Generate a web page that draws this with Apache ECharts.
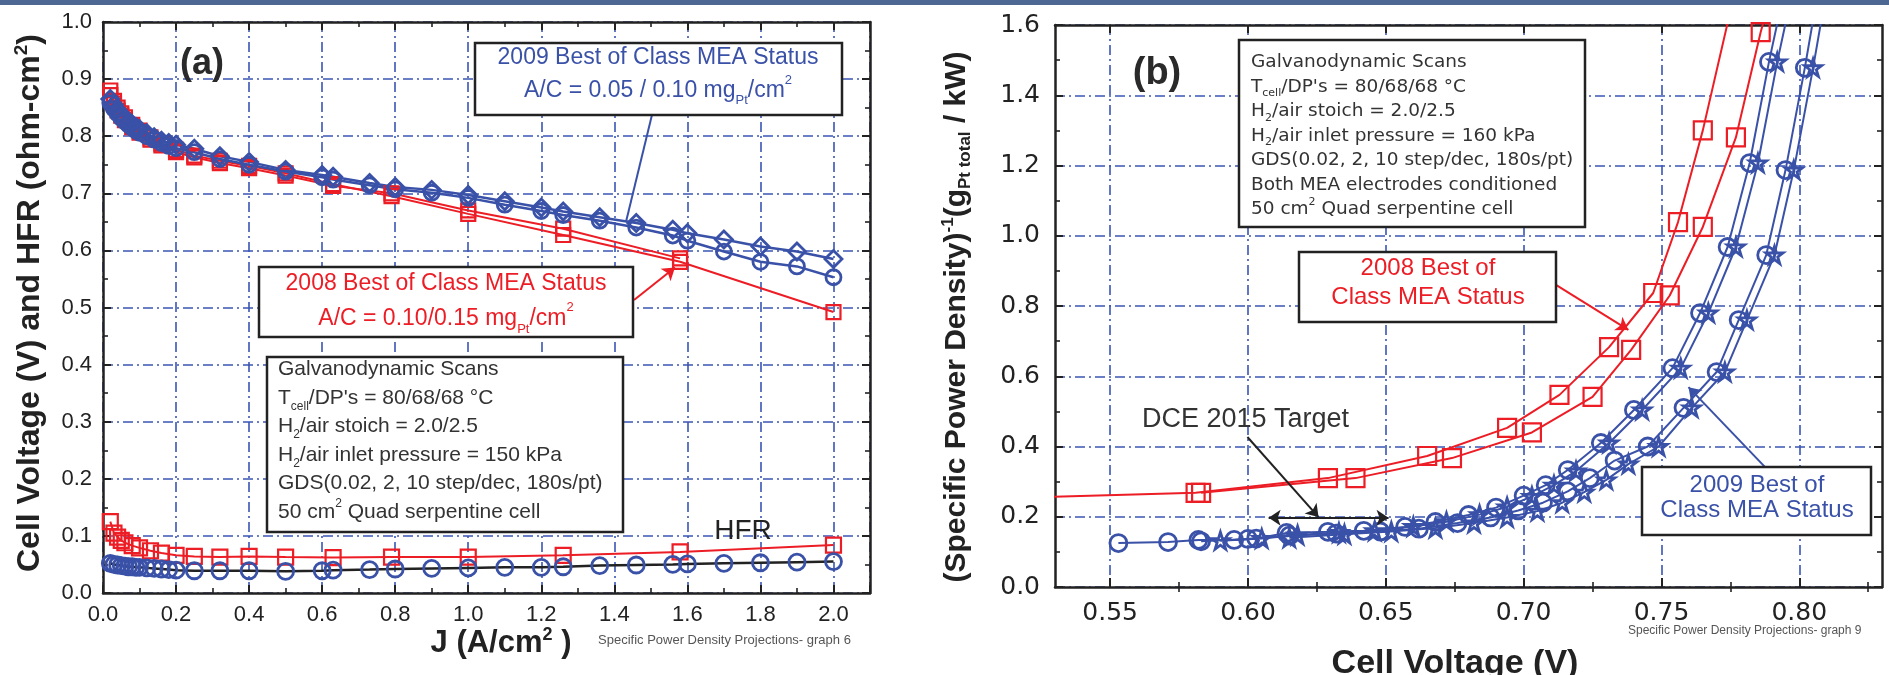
<!DOCTYPE html>
<html>
<head>
<meta charset="utf-8">
<title>Specific Power Density Projections</title>
<script src="https://cdn.jsdelivr.net/npm/echarts@6/dist/echarts.min.js"></script>
<style>
    html, body { margin: 0; padding: 0; background: #fff; }
    #main { width: 1889px; height: 675px; }
</style>
</head>
<body>
<div id="main"></div>
<script>

// ---- panel (a): cell voltage and HFR vs current density ----
var jLog = [0.02, 0.03, 0.04, 0.05, 0.06, 0.08, 0.10, 0.13, 0.16, 0.20,
    0.25, 0.32, 0.40, 0.50, 0.63, 0.79, 1.00, 1.26, 1.58, 2.00];
var red2008V = [0.880, 0.862, 0.850, 0.840, 0.833, 0.820, 0.810, 0.798, 0.787, 0.776,
    0.766, 0.757, 0.748, 0.735, 0.716, 0.695, 0.664, 0.627, 0.580, 0.492];
var red2008HFR = [0.125, 0.105, 0.098, 0.092, 0.088, 0.083, 0.079, 0.074, 0.070, 0.066,
    0.064, 0.063, 0.064, 0.063, 0.062, 0.063, 0.063, 0.066, 0.072, 0.084];
var jLogB = [0.02, 0.03, 0.04, 0.05, 0.06, 0.08, 0.10, 0.13, 0.16, 0.20,
    0.25, 0.32, 0.40, 0.50, 0.63, 0.79, 1.00, 1.26, 1.58];
var red2008bV = [0.872, 0.857, 0.845, 0.836, 0.828, 0.816, 0.806, 0.794, 0.784, 0.772,
    0.763, 0.753, 0.744, 0.731, 0.713, 0.700, 0.670, 0.638, 0.586];

var jLin = [0.02, 0.03, 0.04, 0.05, 0.06, 0.07, 0.08, 0.09, 0.10,
    0.12, 0.14, 0.16, 0.18, 0.20, 0.25, 0.32, 0.40, 0.50,
    0.60, 0.63, 0.73, 0.80, 0.90, 1.00, 1.10, 1.20, 1.26, 1.36, 1.46,
    1.56, 1.60, 1.70, 1.80, 1.90, 2.00];
var blue2009DiaV = [0.865, 0.855, 0.846, 0.838, 0.832, 0.826, 0.821, 0.816, 0.812,
    0.805, 0.798, 0.792, 0.788, 0.785, 0.778, 0.765, 0.755, 0.741,
    0.732, 0.729, 0.718, 0.711, 0.706, 0.697, 0.686, 0.675, 0.668, 0.658, 0.648,
    0.636, 0.630, 0.619, 0.607, 0.598, 0.585];
var blue2009CirV = [0.858, 0.848, 0.840, 0.832, 0.826, 0.820, 0.815, 0.810, 0.806,
    0.800, 0.794, 0.788, 0.783, 0.779, 0.772, 0.760, 0.750, 0.738,
    0.728, 0.724, 0.714, 0.707, 0.701, 0.692, 0.680, 0.669, 0.662, 0.652, 0.640,
    0.626, 0.617, 0.598, 0.580, 0.572, 0.553];
var blue2009HFR = [0.052, 0.050, 0.049, 0.048, 0.047, 0.046, 0.046, 0.045, 0.045,
    0.044, 0.043, 0.042, 0.041, 0.040, 0.039, 0.039, 0.039, 0.038,
    0.039, 0.040, 0.041, 0.042, 0.043, 0.044, 0.045, 0.045, 0.046, 0.048, 0.049,
    0.050, 0.051, 0.052, 0.053, 0.054, 0.055];

// ---- panel (b): inverse specific power density vs cell voltage ----
var redAV = [0.520, 0.581, 0.629, 0.665, 0.694, 0.713, 0.731, 0.747, 0.756, 0.765, 0.774, 0.779];
var redAP = [0.255, 0.268, 0.310, 0.373, 0.453, 0.547, 0.683, 0.837, 1.039, 1.300, 1.606, 1.750];
var redBV = [0.583, 0.639, 0.674, 0.703, 0.725, 0.739, 0.753, 0.765, 0.777, 0.786, 0.792];
var redBP = [0.268, 0.310, 0.367, 0.440, 0.541, 0.675, 0.830, 1.025, 1.280, 1.580, 1.750];

var blue1V = [0.553, 0.571, 0.582, 0.595, 0.603, 0.614, 0.629, 0.642, 0.657, 0.668, 0.680, 0.690,
    0.700, 0.708, 0.716, 0.728, 0.740, 0.754, 0.764, 0.774, 0.782, 0.789, 0.796];
var blue1P = [0.125, 0.128, 0.134, 0.134, 0.138, 0.154, 0.157, 0.160, 0.171, 0.185, 0.205, 0.226,
    0.260, 0.290, 0.333, 0.410, 0.504, 0.623, 0.780, 0.968, 1.207, 1.495, 1.750];
var blue1sV = [0.590, 0.605, 0.618, 0.633, 0.646, 0.660, 0.672, 0.684, 0.694, 0.703,
    0.711, 0.719, 0.731, 0.743, 0.757, 0.767, 0.777, 0.785, 0.792, 0.799];
var blue1sP = [0.132, 0.138, 0.148, 0.155, 0.160, 0.172, 0.186, 0.206, 0.228, 0.258,
    0.290, 0.330, 0.410, 0.504, 0.623, 0.780, 0.968, 1.207, 1.495, 1.750];
var blue2V = [0.583, 0.600, 0.615, 0.632, 0.648, 0.662, 0.676, 0.688, 0.698, 0.707, 0.716,
    0.724, 0.733, 0.745, 0.758, 0.770, 0.778, 0.788, 0.795, 0.802, 0.808];
var blue2P = [0.130, 0.137, 0.146, 0.152, 0.158, 0.166, 0.182, 0.198, 0.218, 0.240, 0.272,
    0.310, 0.360, 0.400, 0.510, 0.612, 0.760, 0.945, 1.187, 1.478, 1.750];
var blue2sV = [0.615, 0.635, 0.652, 0.668, 0.682, 0.694, 0.705, 0.714, 0.722, 0.730,
    0.738, 0.749, 0.761, 0.773, 0.781, 0.791, 0.798, 0.805, 0.811];
var blue2sP = [0.140, 0.150, 0.158, 0.168, 0.182, 0.198, 0.216, 0.240, 0.270, 0.305,
    0.350, 0.400, 0.510, 0.612, 0.760, 0.945, 1.187, 1.478, 1.750];

// tick values of panel (b) voltage axis
var voltMajorTicks = [0.55, 0.60, 0.65, 0.70, 0.75, 0.80];
var voltMinorTicks = [0.575, 0.625, 0.675, 0.725, 0.775, 0.825];

var BLUE = '#3a51a8';
var RED = '#ec1d25';
var INK = '#222';
var GRID = '#3b55b4';
var DASHDOT = [10, 4, 2, 4];
var SANS = 'Liberation Sans';
var WIDE = 'DejaVu Sans';
var STAR = 'path://M50,2 L61,36 L97,36 L68,57 L79,92 L50,71 L21,92 L32,57 L3,36 L39,36 Z';

function pairs(xs, ys) {
    return xs.map(function (x, i) {
        return [x, ys[i]];
    });
}

function curve(name, panel, data, symbol, size, color, lineColor, lineWidth) {
    return {
        name: name,
        type: 'line',
        xAxisIndex: panel === 0 ? 0 : 2,
        yAxisIndex: panel === 0 ? 0 : 2,
        data: data,
        symbol: symbol,
        symbolSize: size,
        showSymbol: true,
        clip: true,
        silent: true,
        animation: false,
        itemStyle: {color: 'rgba(255,255,255,0)', borderColor: color, borderWidth: color === BLUE ? 2.8 : 2.2},
        lineStyle: {color: lineColor, width: lineWidth},
        emphasis: {disabled: true}
    };
}

function arrows(color, list) {
    return {
        silent: true,
        animation: false,
        symbol: ['none', 'arrow'],
        symbolSize: 12,
        label: {show: false},
        lineStyle: {color: color, width: 2, type: 'solid'},
        data: list
    };
}

function frame(grid, pos, extra) {
    var ax = {
        type: 'value',
        gridIndex: grid,
        position: pos,
        axisLine: {show: true, onZero: false, lineStyle: {color: INK, width: 2.5}},
        axisTick: {show: true, inside: true, length: 8, lineStyle: {color: INK, width: 2}},
        minorTick: {show: true, splitNumber: 2, length: 5, lineStyle: {color: INK, width: 1.6}},
        axisLabel: {show: false},
        splitLine: {show: false}
    };
    for (var k in extra) {
        ax[k] = extra[k];
    }
    return ax;
}

function box(x1, y1, x2, y2) {
    return {
        type: 'rect', z: 100,
        shape: {x: x1, y: y1, width: x2 - x1, height: y2 - y1},
        style: {fill: '#fff', stroke: INK, lineWidth: 2.5}
    };
}

function label(x, y, text, rich, align, vAlign, rotation) {
    return {
        type: 'text', z: 101, x: x, y: y, rotation: rotation || 0,
        style: {text: text, rich: rich, align: align, verticalAlign: vAlign}
    };
}

function richSet(family, size, color, lh, weight) {
    return {
        n: {fontFamily: family, fontSize: size, fill: color, lineHeight: lh, fontWeight: weight || 'normal'},
        s: {fontFamily: family, fontSize: Math.round(size * 0.58), fill: color, verticalAlign: 'bottom', fontWeight: weight || 'normal'},
        p: {fontFamily: family, fontSize: Math.round(size * 0.58), fill: color, verticalAlign: 'top', fontWeight: weight || 'normal'}
    };
}

var leftAxisLabel = {
    show: true, margin: 11, showMaxLabel: false,
    fontFamily: SANS, fontSize: 22, color: INK,
    formatter: function (v) { return v.toFixed(1); }
};
var gridLine = {show: true, lineStyle: {color: GRID, width: 1.6, type: DASHDOT}};

var galvLeft = [
    '{n|Galvanodynamic Scans}',
    '{n|T}{s|cell}{n|/DP\'s = 80/68/68 °C}',
    '{n|H}{s|2}{n|/air stoich = 2.0/2.5}',
    '{n|H}{s|2}{n|/air inlet pressure = 150 kPa}',
    '{n|GDS(0.02, 2, 10 step/dec, 180s/pt)}',
    '{n|50 cm}{p|2}{n| Quad serpentine cell}'
].join('\n');
var galvRight = [
    '{n|Galvanodynamic Scans}',
    '{n|T}{s|cell}{n|/DP\'s = 80/68/68 °C}',
    '{n|H}{s|2}{n|/air stoich = 2.0/2.5}',
    '{n|H}{s|2}{n|/air inlet pressure = 160 kPa}',
    '{n|GDS(0.02, 2, 10 step/dec, 180s/pt)}',
    '{n|Both MEA electrodes conditioned}',
    '{n|50 cm}{p|2}{n| Quad serpentine cell}'
].join('\n');

var redV = curve('2008 Best of Class', 0, pairs(jLog, red2008V), 'rect', 14, RED, RED, 2);
redV.markLine = arrows(RED, [[{coord: [1.454, 0.513]}, {coord: [1.566, 0.570]}]]);
var blueDia = curve('2009 Best of Class', 0, pairs(jLin, blue2009DiaV), 'diamond', 17, BLUE, BLUE, 2.5);
blueDia.markLine = arrows(BLUE, [[{coord: [1.503, 0.837]}, {coord: [1.432, 0.650], symbol: 'none'}]]);

var redA = curve('2008 A', 1, pairs(redAV, redAP), 'rect', 18, RED, RED, 2);
redA.markLine = arrows(RED, [[{coord: [0.7107, 0.865]}, {coord: [0.738, 0.732]}]]);
var blue1 = curve('2009 A', 1, pairs(blue1V, blue1P), 'circle', 17, BLUE, BLUE, 2);
blue1.markLine = arrows(BLUE, [
    [{coord: [0.7875, 0.342]}, {coord: [0.7598, 0.569]}],
    [{coord: [0.5998, 0.427], lineStyle: {color: INK}}, {coord: [0.6256, 0.199], lineStyle: {color: INK}}],
    [{coord: [0.6075, 0.197], symbol: 'arrow', lineStyle: {color: INK}},
        {coord: [0.651, 0.197], lineStyle: {color: INK}}]
]);

var option = {
    backgroundColor: '#fff',
    animation: false,
    grid: [
        {left: 103, top: 22, width: 767, height: 571, outerBoundsMode: 'none'},
        {left: 1055, top: 25, width: 827, height: 562, outerBoundsMode: 'none'}
    ],
    xAxis: [
        frame(0, 'bottom', {min: 0, max: 2.1, interval: 0.2, axisLabel: leftAxisLabel, splitLine: gridLine}),
        frame(0, 'top', {min: 0, max: 2.1, interval: 0.2}),
        frame(1, 'bottom', {
            min: 0.53, max: 0.83,
            minorTick: {show: false},
            axisTick: {show: true, inside: true, length: 9, customValues: voltMajorTicks,
                lineStyle: {color: INK, width: 2}},
            axisLabel: {show: true, margin: 14, customValues: voltMajorTicks,
                fontFamily: WIDE, fontSize: 25, color: INK,
                formatter: function (v) { return v.toFixed(2); }},
            splitLine: gridLine
        }),
        frame(1, 'bottom', {
            min: 0.53, max: 0.83, axisLine: {show: false}, minorTick: {show: false},
            axisTick: {show: true, inside: true, length: 5, customValues: voltMinorTicks,
                lineStyle: {color: INK, width: 1.6}}
        }),
        frame(1, 'top', {
            min: 0.53, max: 0.83, minorTick: {show: false},
            axisTick: {show: true, inside: true, length: 8, customValues: voltMajorTicks,
                lineStyle: {color: INK, width: 2}}
        }),
        frame(1, 'top', {
            min: 0.53, max: 0.83, axisLine: {show: false}, minorTick: {show: false},
            axisTick: {show: true, inside: true, length: 5, customValues: voltMinorTicks,
                lineStyle: {color: INK, width: 1.6}}
        })
    ],
    yAxis: [
        frame(0, 'left', {min: 0, max: 1.0, interval: 0.1,
            axisLabel: {show: true, margin: 11, fontFamily: SANS, fontSize: 22, color: INK,
                formatter: function (v) { return v.toFixed(1); }},
            splitLine: gridLine}),
        frame(0, 'right', {min: 0, max: 1.0, interval: 0.1}),
        frame(1, 'left', {min: 0, max: 1.6, interval: 0.2,
            axisLabel: {show: true, margin: 15, fontFamily: WIDE, fontSize: 25, color: INK,
                formatter: function (v) { return v.toFixed(1); }},
            splitLine: gridLine}),
        frame(1, 'right', {min: 0, max: 1.6, interval: 0.2})
    ],
    series: [
        curve('2008 HFR', 0, pairs(jLog, red2008HFR), 'rect', 15, RED, RED, 2),
        redV,
        curve('2008 Best of Class b', 0, pairs(jLogB, red2008bV), 'rect', 14, RED, RED, 2),
        curve('2009 HFR', 0, pairs(jLin, blue2009HFR), 'circle', 16, BLUE, INK, 2.5),
        blueDia,
        curve('2009 Best of Class b', 0, pairs(jLin, blue2009CirV), 'circle', 15, BLUE, BLUE, 2.5),

        redA,
        curve('2008 B', 1, pairs(redBV, redBP), 'rect', 18, RED, RED, 2),
        blue1,
        curve('2009 A star', 1, pairs(blue1sV, blue1sP), STAR, 17, BLUE, BLUE, 2),
        curve('2009 B', 1, pairs(blue2V, blue2P), 'circle', 17, BLUE, BLUE, 2),
        curve('2009 B star', 1, pairs(blue2sV, blue2sP), STAR, 17, BLUE, BLUE, 2)
    ],
    graphic: [
        {type: 'rect', z: 100, shape: {x: 0, y: 0, width: 1889, height: 5}, style: {fill: '#4e6894'}},

        // panel (a) annotations
        label(202, 64, '{n|(a)}', richSet(SANS, 36, '#2a2a2a', 40, 'bold'), 'center', 'middle'),
        box(475, 43, 842, 115),
        label(658, 74, '{n|2009 Best of Class MEA Status}\n{n|A/C = 0.05 / 0.10 mg}{s|Pt}{n|/cm}{p|2}',
            richSet(SANS, 23, BLUE, 33), 'center', 'middle'),
        box(259, 267, 633, 337),
        label(446, 301, '{n|2008 Best of Class MEA Status}\n{n|A/C = 0.10/0.15 mg}{s|Pt}{n|/cm}{p|2}',
            richSet(SANS, 23, RED, 35), 'center', 'middle'),
        box(267, 357, 623, 532),
        label(278, 355, galvLeft, richSet(SANS, 21, '#333', 28.6), 'left', 'top'),
        label(743, 531, '{n|HFR}', richSet(SANS, 28, INK, 30), 'center', 'middle'),
        label(598, 640, '{n|Specific Power Density Projections- graph 6}', richSet(SANS, 13, '#555', 14),
            'left', 'middle'),
        label(30, 303, '{n|Cell Voltage (V) and HFR (ohm-cm}{p|2}{n|)}',
            richSet(SANS, 32, INK, 36, 'bold'), 'center', 'middle', Math.PI / 2),
        label(501, 626, '{n|J (A/cm}{p|2}{n| )}', richSet(SANS, 31, INK, 34, 'bold'), 'center', 'top'),

        // panel (b) annotations
        label(1157, 74, '{n|(b)}', richSet(SANS, 38, '#2a2a2a', 42, 'bold'), 'center', 'middle'),
        box(1239, 40, 1585, 227),
        label(1251, 50, galvRight, richSet(WIDE, 18.5, '#333', 24.5), 'left', 'top'),
        box(1299, 252, 1556, 322),
        label(1428, 283, '{n|2008 Best of}\n{n|Class MEA Status}', richSet(SANS, 24, RED, 29), 'center', 'middle'),
        box(1642, 467, 1871, 535),
        label(1757, 498, '{n|2009 Best of}\n{n|Class MEA Status}', richSet(SANS, 24, BLUE, 25), 'center', 'middle'),
        label(1142, 420, '{n|DCE 2015 Target}', richSet(SANS, 27, '#333', 30), 'left', 'middle'),
        label(1628, 631, '{n|Specific Power Density Projections- graph 9}', richSet(SANS, 12, '#555', 13),
            'left', 'middle'),
        label(957, 317, '{n|(Specific Power Density)}{p|-1}{n|(g}{s|Pt total}{n| / kW)}',
            richSet(SANS, 30, INK, 34, 'bold'), 'center', 'middle', Math.PI / 2),
        label(1455, 646, '{n|Cell Voltage (V)}', richSet(SANS, 34, INK, 36, 'bold'), 'center', 'top')
    ]
};

var chart = echarts.init(document.getElementById('main'), null, {renderer: 'canvas'});
chart.setOption(option);

</script>
</body>
</html>
